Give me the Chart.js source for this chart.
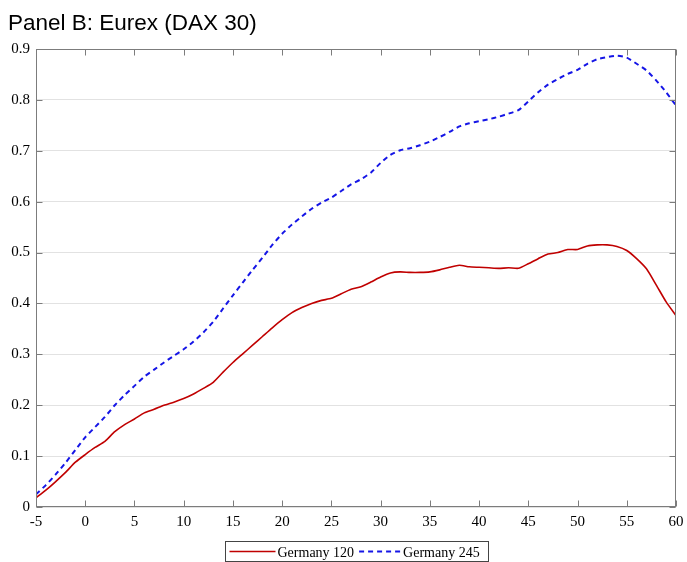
<!DOCTYPE html>
<html><head><meta charset="utf-8">
<script src="https://cdn.jsdelivr.net/npm/chart.js@4"></script>
<style>html,body{margin:0;padding:0;background:#fff}#wrap{width:687px;height:562px}</style>
</head><body><div id="wrap"><canvas id="c" width="687" height="562"></canvas></div>
<script>
const titleText = 'Panel B: Eurex (DAX 30)';
const seriesLabels = ['Germany 120', 'Germany 245'];
const horizons = [-5,-4,-3,-2,-1,0,1,2,3,4,5,6,7,8,9,10,11,12,13,14,15,16,17,18,19,20,21,22,23,24,25,26,27,28,29,30,31,32,33,34,35,36,37,38,39,40,41,42,43,44,45,46,47,48,49,50,51,52,53,54,55,56,57,58,59,60];
const germany120 = [0.018,0.033,0.050,0.068,0.088,0.103,0.117,0.129,0.148,0.162,0.173,0.185,0.192,0.200,0.206,0.213,0.222,0.233,0.245,0.265,0.284,0.301,0.318,0.335,0.352,0.368,0.382,0.392,0.400,0.406,0.410,0.419,0.428,0.433,0.442,0.452,0.460,0.462,0.461,0.461,0.462,0.466,0.471,0.475,0.472,0.471,0.470,0.469,0.470,0.469,0.478,0.488,0.497,0.500,0.506,0.506,0.513,0.515,0.515,0.512,0.504,0.488,0.468,0.436,0.403,0.376];
const germany245 = [0.025,0.043,0.064,0.087,0.112,0.137,0.157,0.177,0.200,0.220,0.238,0.256,0.270,0.284,0.297,0.310,0.325,0.343,0.364,0.390,0.416,0.441,0.466,0.490,0.515,0.537,0.555,0.571,0.586,0.598,0.608,0.621,0.634,0.644,0.657,0.676,0.692,0.701,0.705,0.711,0.718,0.727,0.737,0.748,0.754,0.758,0.762,0.767,0.773,0.780,0.797,0.815,0.830,0.841,0.851,0.859,0.871,0.880,0.884,0.887,0.883,0.871,0.858,0.838,0.815,0.789];
const xTickValues = [-5,0,5,10,15,20,25,30,35,40,45,50,55,60];
const yTickValues = [0,0.1,0.2,0.3,0.4,0.5,0.6,0.7,0.8,0.9];

const colors = ['#c00000', '#1515e6'];
const serif = '"Liberation Serif", "Times New Roman", serif';

const framePlugin = {
  id: 'frame',
  afterDatasetsDraw(chart) {
    const {ctx, chartArea: a, scales} = chart;
    ctx.save();
    ctx.strokeStyle = '#7c7c7c';
    ctx.lineWidth = 1;
    const L = Math.round(a.left) + 0.5, R = Math.round(a.right) - 0.5;
    const T = Math.round(a.top) + 0.5, B = Math.round(a.bottom) - 0.5;
    ctx.strokeRect(L, T, R - L, B - T);
    const tl = 6;
    ctx.beginPath();
    scales.x.ticks.forEach(t => {
      const x = Math.round(scales.x.getPixelForValue(t.value)) + 0.5;
      ctx.moveTo(x, B); ctx.lineTo(x, B - tl);
      ctx.moveTo(x, T); ctx.lineTo(x, T + tl);
    });
    scales.y.ticks.forEach(t => {
      const y = Math.round(scales.y.getPixelForValue(t.value)) + 0.5;
      ctx.moveTo(L, y); ctx.lineTo(L + tl, y);
      ctx.moveTo(R, y); ctx.lineTo(R - tl, y);
    });
    ctx.stroke();
    ctx.restore();
  },
  afterDraw(chart) {
    const ctx = chart.ctx;
    ctx.save();
    // title
    ctx.fillStyle = '#000';
    ctx.font = '22.5px "Liberation Sans", Arial, sans-serif';
    ctx.textBaseline = 'alphabetic';
    ctx.textAlign = 'left';
    ctx.fillText(titleText, 8, 30);
    // legend
    const bx = 225.5, by = 541.5, bw = 263, bh = 20;
    ctx.strokeStyle = '#444';
    ctx.lineWidth = 1;
    ctx.strokeRect(bx, by, bw, bh);
    ctx.font = '14px ' + serif;
    const ly = 551.5;
    let x = bx + 4;
    chart.data.datasets.forEach((ds, i) => {
      const len = i === 0 ? 46 : 42;
      ctx.beginPath();
      ctx.strokeStyle = ds.borderColor;
      ctx.lineWidth = ds.borderWidth;
      ctx.setLineDash(ds.borderDash || []);
      ctx.moveTo(x, ly); ctx.lineTo(x + len, ly);
      ctx.stroke();
      ctx.setLineDash([]);
      x += len + 2;
      ctx.fillStyle = '#000';
      ctx.fillText(ds.label, x, 557);
      x += ctx.measureText(ds.label).width + 5;
    });
    ctx.restore();
  }
};

new Chart(document.getElementById('c'), {
  type: 'line',
  data: {
    datasets: [
      { label: seriesLabels[0], data: horizons.map((h, i) => ({x: h, y: germany120[i]})),
        borderColor: colors[0], borderWidth: 1.6, pointRadius: 0, fill: false, tension: 0.2 },
      { label: seriesLabels[1], data: horizons.map((h, i) => ({x: h, y: germany245[i]})),
        borderColor: colors[1], borderWidth: 2, borderDash: [5, 4], pointRadius: 0, fill: false, tension: 0.2 }
    ]
  },
  options: {
    responsive: false,
    animation: false,
    devicePixelRatio: 1,
    layout: { padding: { top: 49, right: 11, left: 0, bottom: 0 } },
    plugins: { legend: { display: false }, title: { display: false }, tooltip: { enabled: false } },
    scales: {
      x: {
        type: 'linear', min: -5, max: 60,
        afterBuildTicks: s => { s.ticks = xTickValues.map(v => ({value: v})); },
        afterFit: s => { s.height = 55; s.paddingRight = 0; s.paddingLeft = 0; },
        grid: { display: false, drawTicks: false },
        border: { display: false },
        ticks: { color: '#000', font: { family: serif, size: 15 }, padding: 6, maxRotation: 0,
                 callback: v => String(v) }
      },
      y: {
        type: 'linear', min: 0, max: 0.9,
        afterBuildTicks: s => { s.ticks = yTickValues.map(v => ({value: v})); },
        afterFit: s => { s.width = 36; s.paddingTop = 0; s.paddingBottom = 0; },
        grid: { color: '#e2e2e2', drawTicks: false, lineWidth: 1 },
        border: { display: false },
        ticks: { color: '#000', font: { family: serif, size: 15 }, padding: 6,
                 callback: v => (v === 0 ? '0' : Number(v).toFixed(1)) }
      }
    }
  },
  plugins: [framePlugin]
});
</script>
</body></html>
